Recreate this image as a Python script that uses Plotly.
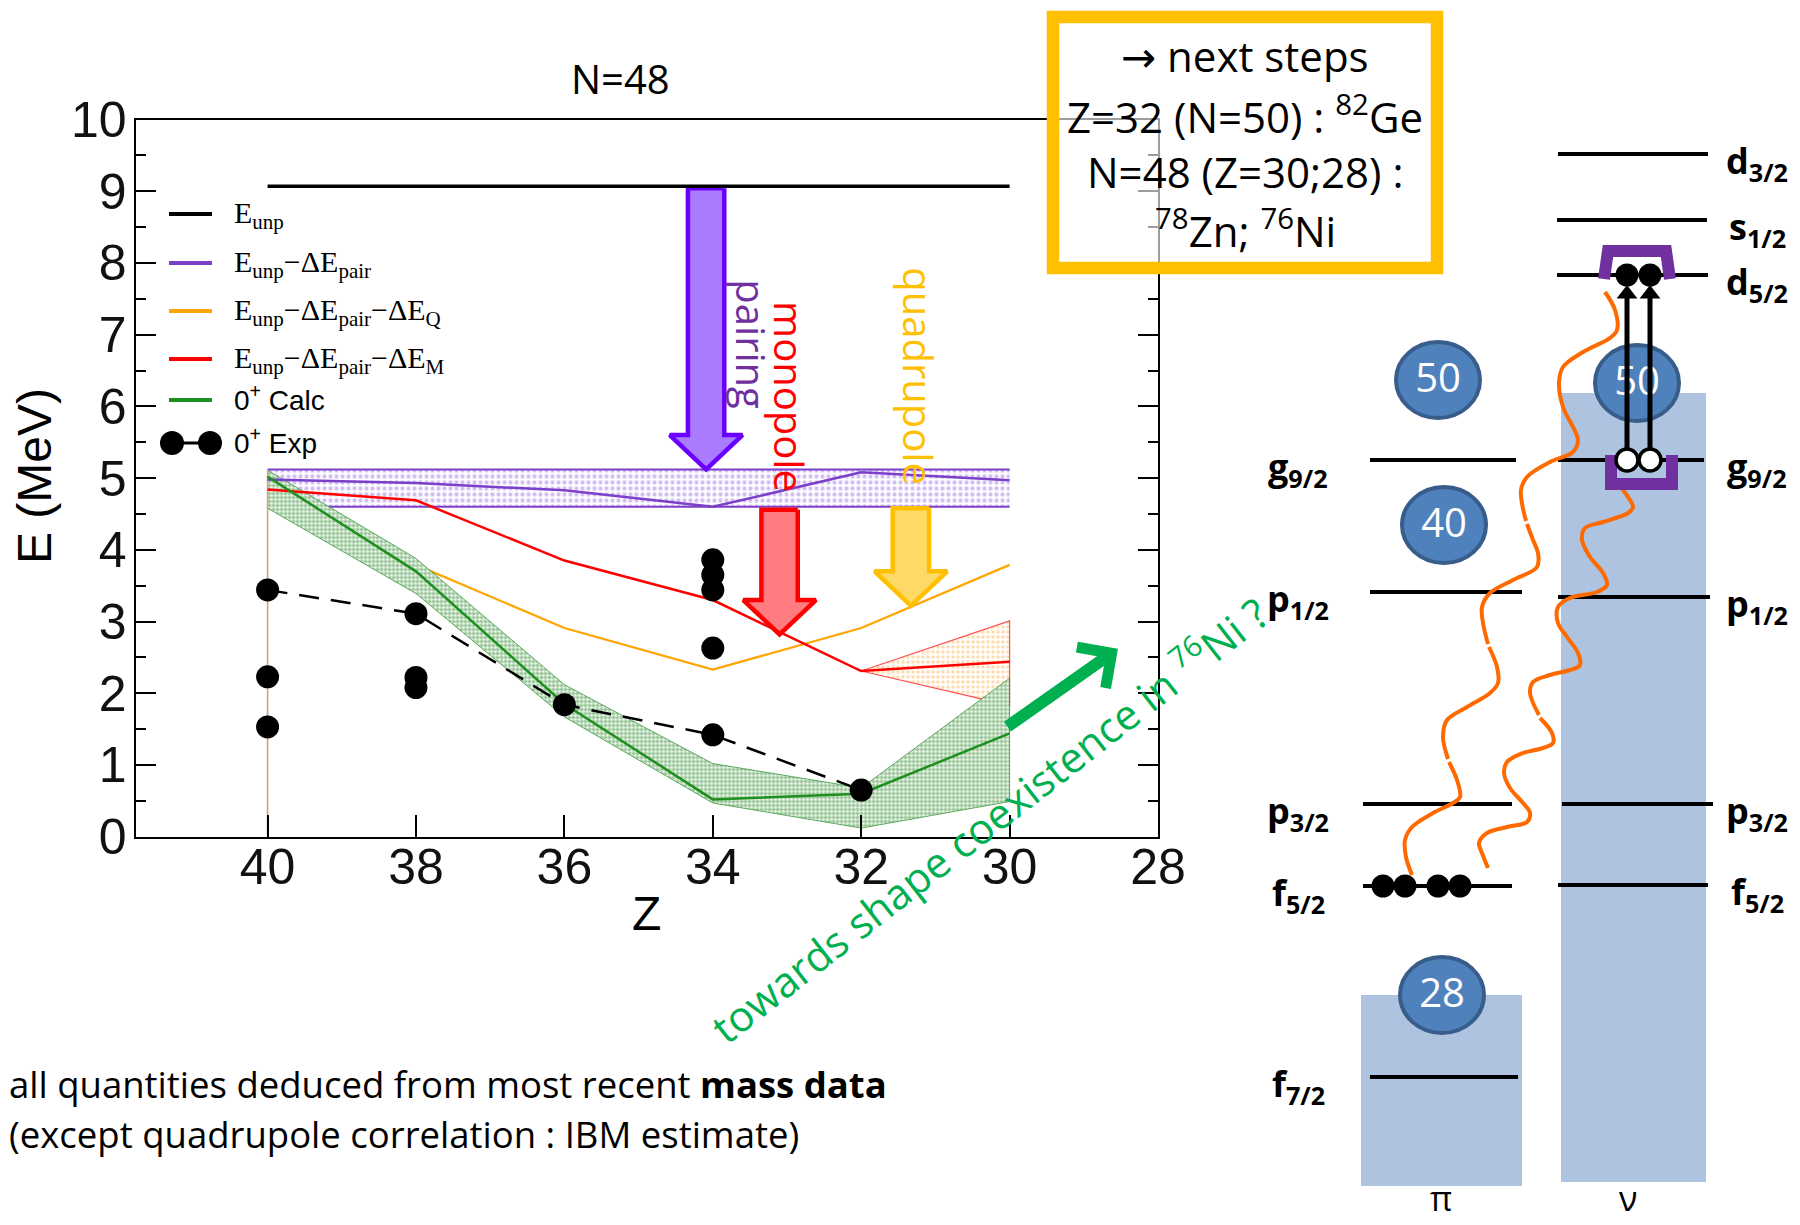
import numpy as np
import plotly.graph_objects as go

# ---------------- main chart data (N=48 isotones) ----------------
Z = [40, 38, 36, 34, 32, 30]
E_unp = [9.07, 9.07, 9.07, 9.07, 9.07, 9.07]
E_pair = [4.98, 4.93, 4.83, 4.60, 5.08, 4.97]
pair_hi = [5.12, 5.12, 5.12, 5.12, 5.12, 5.12]
pair_lo = [4.60, 4.60, 4.60, 4.60, 4.60, 4.60]
Z_Q = [38, 36, 34, 32, 30]
E_Q = [3.79, 2.91, 2.33, 2.91, 3.79]
E_M = [4.84, 4.69, 3.85, 3.30, 2.31, 2.44]
Z_Mband = [32, 30]
M_hi = [2.31, 3.01]
M_lo = [2.31, 1.83]
calc = [5.02, 3.70, 1.85, 0.52, 0.60, 1.44]
calc_hi = [5.11, 3.88, 2.12, 1.02, 0.68, 2.21]
calc_lo = [4.58, 3.39, 1.67, 0.47, 0.12, 0.49]
exp_Z = [40, 38, 36, 34, 32]
exp_E = [3.44, 3.11, 1.84, 1.42, 0.65]
exp_other_Z = [40, 40, 38, 38, 34, 34, 34, 34]
exp_other_E = [2.23, 1.53, 2.22, 2.08, 3.86, 3.65, 3.44, 2.63]
Z_TICKS = [40, 38, 36, 34, 32, 30, 28]

# correlation arrows: (label, Z centre, top, tip)
corr_labels = ["pairing", "monopole", "quadrupole"]
corr_Z = [34.09, 33.10, 31.33]
corr_top = [9.04, 4.56, 4.58]
corr_tip = [5.12, 2.82, 3.22]

# ---------------- level scheme (diagram, pixel units) ----------------
prot_names = ["g<sub>9/2</sub>", "p<sub>1/2</sub>", "p<sub>3/2</sub>", "f<sub>5/2</sub>", "f<sub>7/2</sub>"]
prot_y = [460, 592, 804, 886, 1077]
prot_x0 = [1370, 1370, 1363, 1363, 1370]
prot_x1 = [1516, 1522, 1512, 1512, 1518]
neut_names = ["d<sub>3/2</sub>", "s<sub>1/2</sub>", "d<sub>5/2</sub>", "g<sub>9/2</sub>",
              "p<sub>1/2</sub>", "p<sub>3/2</sub>", "f<sub>5/2</sub>"]
neut_y = [154, 220, 275, 460, 597, 804, 885]
neut_x0 = [1558, 1557, 1557, 1558, 1558, 1562, 1558]
neut_x1 = [1708, 1707, 1708, 1704, 1710, 1713, 1708]
magic_labels = ["50", "40", "28", "50"]
magic_x = [1438, 1444, 1442, 1637]
magic_y = [380, 525, 995, 383]

# wavy correlation curves (pixel units, None = small gap)
curve1_x = [1412, 1406, 1405, 1412, 1433, 1453, 1460, 1457, 1449, None, 1448, 1443, 1447, 1467, 1490, 1498, 1497, 1489, None,
            1488, 1483, 1482, 1490, 1513, 1537, 1538, 1533, 1527, None, 1526, 1521, 1527, 1550, 1573, 1578, 1573, 1563,
            1559, 1563, 1583, 1610, 1617, 1615, 1605]
curve1_y = [875, 857, 840, 827, 813, 803, 797, 780, 762, None, 759, 737, 720, 707, 693, 683, 667, 647, None,
            644, 623, 607, 593, 580, 567, 553, 540, 524, None, 521, 490, 477, 462, 452, 440, 427, 407,
            383, 367, 352, 338, 330, 310, 292]
curve2_x = [1488, 1482, 1479, 1487, 1507, 1527, 1530, 1523, 1510, 1504, 1507, 1523, 1543, 1553, 1552, 1540, None,
            1539, 1530, 1533, 1550, 1570, 1580, 1578, 1567, 1558, 1558, 1570, 1597, 1607, 1603, 1590, 1582,
            1585, 1603, 1628, 1633, 1628, 1617]
curve2_y = [868, 853, 843, 833, 827, 822, 813, 803, 788, 773, 762, 753, 748, 743, 733, 718, None,
            715, 693, 682, 675, 670, 665, 653, 637, 623, 607, 598, 592, 585, 573, 557, 540,
            528, 522, 513, 507, 497, 482]

PURPLE = "#7b3fc9"
RED = "#ff0000"
ORANGE = "#ffa500"
GREEN = "#1f8f1f"
W, H = 1800, 1225

fig = go.Figure()
sk = dict(hoverinfo="skip", showlegend=False)

# ---- bands ----
fig.add_trace(go.Scatter(x=Z + Z[::-1], y=pair_hi + pair_lo[::-1], fill="toself", mode="none",
                         fillcolor="rgba(0,0,0,0)",
                         fillpattern=dict(shape=".", fgcolor="#9f78e3", size=6, solidity=0.4), **sk))
fig.add_trace(go.Scatter(x=Z, y=pair_hi, mode="lines", line=dict(color=PURPLE, width=2), **sk))
fig.add_trace(go.Scatter(x=Z, y=pair_lo, mode="lines", line=dict(color=PURPLE, width=2), **sk))
fig.add_trace(go.Scatter(x=Z_Q, y=E_Q, mode="lines", line=dict(color=ORANGE, width=2.2), **sk))
fig.add_trace(go.Scatter(x=Z_Mband + Z_Mband[::-1], y=M_hi + M_lo[::-1], fill="toself", mode="lines",
                         line=dict(color="#ff5050", width=1.2), fillcolor="rgba(0,0,0,0)",
                         fillpattern=dict(shape=".", fgcolor="#ffb24d", size=5, solidity=0.35), **sk))
fig.add_trace(go.Scatter(x=Z + Z[::-1], y=calc_hi + calc_lo[::-1], fill="toself", mode="lines",
                         line=dict(color="rgba(40,140,40,0.7)", width=1), fillcolor="rgba(0,0,0,0)",
                         fillpattern=dict(shape=".", fgcolor="#1a7f1a", bgcolor="white", size=4, solidity=0.65),
                         **sk))

# tan vertical line at Z=40
fig.add_trace(go.Scatter(x=[40, 40], y=[0, 5.12], mode="lines", line=dict(color="#c8a67c", width=1.6), **sk))

# ---- block arrows for correlation energies ----
arrow_fill = ["#a97bff", "#ff7c80", "#ffd966"]
arrow_edge = ["#6a00ff", "#ff0000", "#ffc000"]
shaft_hw, head_hw, head_len = 0.245, 0.49, 0.48
for zc, top, tip, fc, ec in zip(corr_Z, corr_top, corr_tip, arrow_fill, arrow_edge):
    base = tip + head_len
    xs = [zc - shaft_hw, zc - shaft_hw, zc - head_hw, zc, zc + head_hw, zc + shaft_hw, zc + shaft_hw, zc - shaft_hw]
    ys = [top, base, base, tip, base, base, top, top]
    fig.add_trace(go.Scatter(x=xs, y=ys, fill="toself", mode="lines", fillcolor=fc,
                             line=dict(color=ec, width=4.5), **sk))

# ---- lines ----
fig.add_trace(go.Scatter(x=Z, y=E_pair, mode="lines", line=dict(color=PURPLE, width=2.5), **sk))
fig.add_trace(go.Scatter(x=Z, y=E_M, mode="lines", line=dict(color=RED, width=2.5), **sk))
fig.add_trace(go.Scatter(x=Z, y=calc, mode="lines", line=dict(color=GREEN, width=2.5), **sk))
fig.add_trace(go.Scatter(x=Z, y=E_unp, mode="lines", line=dict(color="black", width=3.5), **sk))
fig.add_trace(go.Scatter(x=exp_Z, y=exp_E, mode="lines", line=dict(color="black", width=2.5, dash="20px,12px"), **sk))
fig.add_trace(go.Scatter(x=exp_Z + exp_other_Z, y=exp_E + exp_other_E, mode="markers",
                         marker=dict(color="black", size=23), **sk))

# ================= level scheme on a pixel overlay =================
ov = dict(xaxis="x2", yaxis="y2")

def seg(x0s, x1s, ys):
    xx, yy = [], []
    for a, b, y in zip(x0s, x1s, ys):
        xx += [a, b, None]
        yy += [y, y, None]
    return xx, yy

px_, py_ = seg(prot_x0, prot_x1, prot_y)
nx_, ny_ = seg(neut_x0, neut_x1, neut_y)
fig.add_trace(go.Scatter(x=px_ + nx_, y=py_ + ny_, mode="lines", line=dict(color="black", width=4), **ov, **sk))

# orange wavy lines
fig.add_trace(go.Scatter(x=curve1_x, y=curve1_y, mode="lines", line=dict(color="#ff6a00", width=4, shape="spline"),
                         connectgaps=False, **ov, **sk))
fig.add_trace(go.Scatter(x=curve2_x, y=curve2_y, mode="lines", line=dict(color="#ff6a00", width=4, shape="spline"),
                         connectgaps=False, **ov, **sk))

# magic numbers text
fig.add_trace(go.Scatter(x=magic_x, y=[v + 2 for v in magic_y], mode="text", text=magic_labels,
                         textfont=dict(family="Open Sans", size=40, color="white"), **ov, **sk))

# purple brackets
fig.add_trace(go.Scatter(x=[1604, 1608, 1666, 1670], y=[279, 251, 251, 279], mode="lines",
                         line=dict(color="#7030a0", width=12), **ov, **sk))
fig.add_trace(go.Scatter(x=[1611, 1611, 1672, 1672], y=[455, 484, 484, 455], mode="lines",
                         line=dict(color="#7030a0", width=12), **ov, **sk))

# excitation arrows
arr_x = [1627, 1650]
for ax_ in arr_x:
    fig.add_trace(go.Scatter(x=[ax_, ax_], y=[452, 298], mode="lines", line=dict(color="black", width=5), **ov, **sk))
fig.add_trace(go.Scatter(x=arr_x, y=[294, 294], mode="markers", marker=dict(symbol="triangle-up", size=18, color="black"),
                         **ov, **sk))
# particles / holes
fig.add_trace(go.Scatter(x=arr_x, y=[275, 275], mode="markers", marker=dict(size=23, color="black"), **ov, **sk))
fig.add_trace(go.Scatter(x=arr_x, y=[460, 460], mode="markers",
                         marker=dict(size=22, color="white", line=dict(color="black", width=3.5)), **ov, **sk))
fig.add_trace(go.Scatter(x=[1383, 1405, 1438, 1460], y=[886] * 4, mode="markers",
                         marker=dict(size=23, color="black"), **ov, **sk))

# legend samples
leg_y = [214, 263, 311, 359, 400]
leg_col = ["black", PURPLE, ORANGE, RED, GREEN]
for y, c in zip(leg_y, leg_col):
    fig.add_trace(go.Scatter(x=[169, 212], y=[y, y], mode="lines", line=dict(color=c, width=4), **ov, **sk))
fig.add_trace(go.Scatter(x=[172, 210], y=[443, 443], mode="lines+markers", line=dict(color="black", width=3),
                         marker=dict(size=24, color="black"), **ov, **sk))

shapes = []
# filled cores
shapes.append(dict(type="rect", xref="x2", yref="y2", x0=1361, x1=1522, y0=995, y1=1186,
                   fillcolor="#adc3df", line=dict(width=0), layer="below"))
shapes.append(dict(type="rect", xref="x2", yref="y2", x0=1561, x1=1706, y0=393, y1=1182,
                   fillcolor="#adc3df", line=dict(width=0), layer="below"))
for cx, cy in zip(magic_x, magic_y):
    shapes.append(dict(type="circle", xref="x2", yref="y2", x0=cx - 42, x1=cx + 42, y0=cy - 38, y1=cy + 38,
                       fillcolor="#4f81bd", line=dict(color="#385d8a", width=4), layer="below"))
# next-steps box
shapes.append(dict(type="rect", xref="x2", yref="y2", x0=1053, x1=1437, y0=17, y1=268,
                   fillcolor="rgba(255,255,255,0.62)", line=dict(color="#ffc000", width=12.5), layer="above"))

ann = []
def A(x, y, text, size, color="black", family="Open Sans", xa="center", ya="middle", angle=0, ref="x2"):
    ann.append(dict(x=x, y=y, xref=ref, yref=ref.replace("x", "y"), text=text, showarrow=False,
                    font=dict(family=family, size=size, color=color), xanchor=xa, yanchor=ya, textangle=angle))

# legend text
serif = "Liberation Serif"
A(232, 215, "E<sub>unp</sub>", 30, family=serif, xa="left")
A(232, 264, "E<sub>unp</sub>−ΔE<sub>pair</sub>", 30, family=serif, xa="left")
A(232, 312, "E<sub>unp</sub>−ΔE<sub>pair</sub>−ΔE<sub>Q</sub>", 30, family=serif, xa="left")
A(232, 360, "E<sub>unp</sub>−ΔE<sub>pair</sub>−ΔE<sub>M</sub>", 30, family=serif, xa="left")
A(232, 398, "0<sup>+</sup> Calc", 28, family="Liberation Sans", xa="left")
A(232, 441, "0<sup>+</sup> Exp", 28, family="Liberation Sans", xa="left")

# titles
A(620, 78, "N=48", 40)
A(34, 476, "E (MeV)", 48, family="Liberation Sans", angle=-90)
A(646, 913, "Z", 48, family="Liberation Sans")

# correlation labels (data coords)
lab_Z = [33.48, 32.96, 31.22]
lab_E = [6.86, 6.13, 6.42]
lab_col = ["#7030a0", "#ff0000", "#ffc000"]
for t, zx, ey, c in zip(corr_labels, lab_Z, lab_E, lab_col):
    ann.append(dict(x=zx, y=ey, xref="x", yref="y", text=t, showarrow=False, textangle=90,
                    font=dict(family="Open Sans", size=40, color=c)))

# green arrow + text
ann.append(dict(x=28.54, y=2.62, xref="x", yref="y", ax=30.05, ay=1.52, axref="x", ayref="y", text="",
                showarrow=True, arrowhead=4, arrowsize=0.8, arrowwidth=12, arrowcolor="#00b050"))
A(988, 818, "towards shape coexistence in <sup>76</sup>Ni ?", 42, color="#00b050", angle=-38)

# next steps box text
A(1245, 55, "<span style='font-family:DejaVu Sans;font-size:42px'>→</span> next steps", 42)
A(1245, 114, "Z=32 (N=50) : <sup>82</sup>Ge", 42)
A(1245, 171, "N=48 (Z=30;28) :", 42)
A(1245, 228, "<sup>78</sup>Zn; <sup>76</sup>Ni", 42)

# bottom note
A(7, 1084, "all quantities deduced from most recent <b>mass data</b>", 36.5, xa="left")
A(7, 1134, "(except quadrupole correlation : IBM estimate)", 36.5, xa="left")

# level labels
for name, y in zip(prot_names, prot_y):
    A(1298, y + 8, "<b>" + name + "</b>", 36)
for name, y in zip(neut_names, neut_y):
    A(1757, y + 8, "<b>" + name + "</b>", 36)
A(1441, 1223, "π", 34, ya="bottom")
A(1628, 1223, "ν", 34, ya="bottom")

tickfont = dict(family="Liberation Sans", size=50, color="#111")
fig.update_layout(
    width=W, height=H, margin=dict(l=0, r=0, t=0, b=0, pad=0, autoexpand=False),
    paper_bgcolor="white", plot_bgcolor="rgba(0,0,0,0)", showlegend=False,
    shapes=shapes, annotations=ann,
    xaxis=dict(domain=[135.5 / W, 1158 / W], range=[41.78, 28], tickvals=Z_TICKS, ticks="inside", ticklen=22,
               tickwidth=2, tickcolor="black", showline=True, linecolor="black", linewidth=2, mirror=True,
               showgrid=False, zeroline=False, tickfont=tickfont, anchor="y", ticklabelstandoff=-15,
               automargin=False),
    yaxis=dict(domain=[1 - 836.7 / H, 1 - 119.5 / H], range=[0, 10], dtick=1, ticks="inside", ticklen=20,
               tickwidth=2, tickcolor="black", showline=True, linecolor="black", linewidth=2, mirror="ticks",
               showgrid=False, zeroline=False, tickfont=tickfont, anchor="x", ticklabelstandoff=-3,
               automargin=False,
               minor=dict(dtick=0.5, ticklen=10, ticks="inside", tickwidth=2, tickcolor="black", showgrid=False)),
    xaxis2=dict(domain=[0, 1], range=[0, W], visible=False, anchor="y2", automargin=False),
    yaxis2=dict(domain=[0, 1], range=[H, 0], visible=False, anchor="x2", automargin=False),
)

fig.write_html("out.html")
